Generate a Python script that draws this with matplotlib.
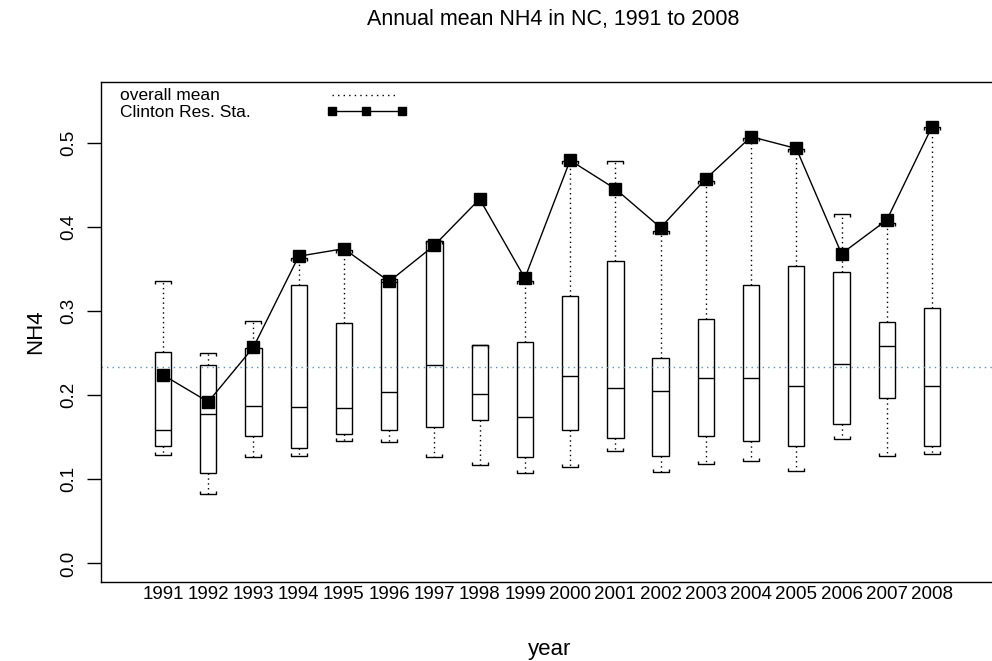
import matplotlib
matplotlib.use("Agg")
import matplotlib.pyplot as plt
from matplotlib.path import Path

plt.rcParams['font.family'] = ['Liberation Sans', 'DejaVu Sans']

years = [str(y) for y in range(1991, 2009)]
q1 = [0.140, 0.107, 0.152, 0.137, 0.154, 0.158, 0.162, 0.170, 0.127, 0.158,
      0.149, 0.128, 0.152, 0.146, 0.140, 0.166, 0.197, 0.139]
med = [0.158, 0.178, 0.187, 0.186, 0.185, 0.204, 0.236, 0.201, 0.174, 0.223,
       0.208, 0.205, 0.220, 0.220, 0.211, 0.237, 0.258, 0.211]
q3 = [0.251, 0.236, 0.256, 0.331, 0.286, 0.334, 0.383, 0.259, 0.263, 0.318,
      0.359, 0.244, 0.290, 0.331, 0.353, 0.346, 0.287, 0.303]
lo = [0.129, 0.082, 0.127, 0.128, 0.146, 0.144, 0.126, 0.117, 0.107, 0.115,
      0.134, 0.109, 0.118, 0.122, 0.110, 0.148, 0.128, 0.130]
hi = [0.336, 0.250, 0.288, 0.363, 0.373, 0.338, 0.383, 0.259, 0.336, 0.478,
      0.478, 0.395, 0.454, 0.506, 0.492, 0.415, 0.405, 0.518]
means = [0.224, 0.192, 0.257, 0.365, 0.374, 0.335, 0.378, 0.433, 0.339, 0.479,
         0.445, 0.399, 0.457, 0.507, 0.493, 0.368, 0.408, 0.519]
overall_mean = 0.233

fig = plt.figure(figsize=(9.92, 6.61), dpi=100)
ax = fig.add_axes([101 / 992, 79 / 661, 893 / 992, 500 / 661])

pos = list(range(len(years)))
stats = []
for i in pos:
    stats.append({"med": med[i], "q1": q1[i], "q3": q3[i],
                  "whislo": lo[i], "whishi": hi[i], "fliers": []})

ax.bxp(stats, positions=pos, widths=0.36, showcaps=False, patch_artist=True,
       boxprops=dict(facecolor='white', edgecolor='black', linewidth=1.0),
       medianprops=dict(color='black', linewidth=1.0),
       whiskerprops=dict(color='black', linewidth=1.0, linestyle=(0, (1, 2.5))))

# bracket shaped caps
upcap = Path([(-1, -0.35), (-1, 0), (1, 0), (1, -0.35)],
             [Path.MOVETO, Path.LINETO, Path.LINETO, Path.LINETO])
lowcap = Path([(-1, 0.35), (-1, 0), (1, 0), (1, 0.35)],
              [Path.MOVETO, Path.LINETO, Path.LINETO, Path.LINETO])
ax.plot(pos, hi, linestyle='none', marker=upcap, markersize=12,
        markerfacecolor='none', markeredgecolor='black', markeredgewidth=1.0)
ax.plot(pos, lo, linestyle='none', marker=lowcap, markersize=12,
        markerfacecolor='none', markeredgecolor='black', markeredgewidth=1.0)

ax.axhline(overall_mean, color='#5b8fb9', linewidth=1.0, linestyle=(0, (1, 3)))
ax.plot(pos, means, color='black', linewidth=1.0, marker='s', markersize=8)

ax.set_xlim(-1.37, 18.37)
ax.set_ylim(-0.022, 0.572)
ax.set_xticks(pos)
ax.set_xticklabels(years)
ax.set_yticks([0.0, 0.1, 0.2, 0.3, 0.4, 0.5])
ax.set_yticklabels(['0.0', '0.1', '0.2', '0.3', '0.4', '0.5'], rotation=90, va='center')
ax.tick_params(axis='x', length=0, pad=3, labelsize=13.5)
ax.tick_params(axis='y', length=10, width=1, pad=7, labelsize=13.5)
for s in ax.spines.values():
    s.set_linewidth(1.0)

# legend drawn by hand (text left, keys right as in the original)
ax.text(0.021, 0.974, 'overall mean', transform=ax.transAxes, fontsize=12.5,
        va='center', ha='left')
ax.text(0.021, 0.940, 'Clinton Res. Sta.', transform=ax.transAxes, fontsize=12.5,
        va='center', ha='left')
ax.plot([0.259, 0.332], [0.974, 0.974], transform=ax.transAxes, color='black',
        linewidth=1.0, linestyle=(0, (1, 3)))
ax.plot([0.259, 0.297, 0.337], [0.942, 0.942, 0.942], transform=ax.transAxes,
        color='black', linewidth=1.0, marker='s', markersize=6)

fig.text(553 / 992, 1 - 25 / 661, 'Annual mean NH4 in NC, 1991 to 2008',
         ha='center', va='baseline', fontsize=15.5)
fig.text(550 / 992, 1 - 650 / 661, 'year', ha='center', va='center', fontsize=16)
fig.text(36 / 992, 1 - 332 / 661, 'NH4', ha='center', va='center', fontsize=16,
         rotation=90)

fig.savefig('out.png', dpi=100)
